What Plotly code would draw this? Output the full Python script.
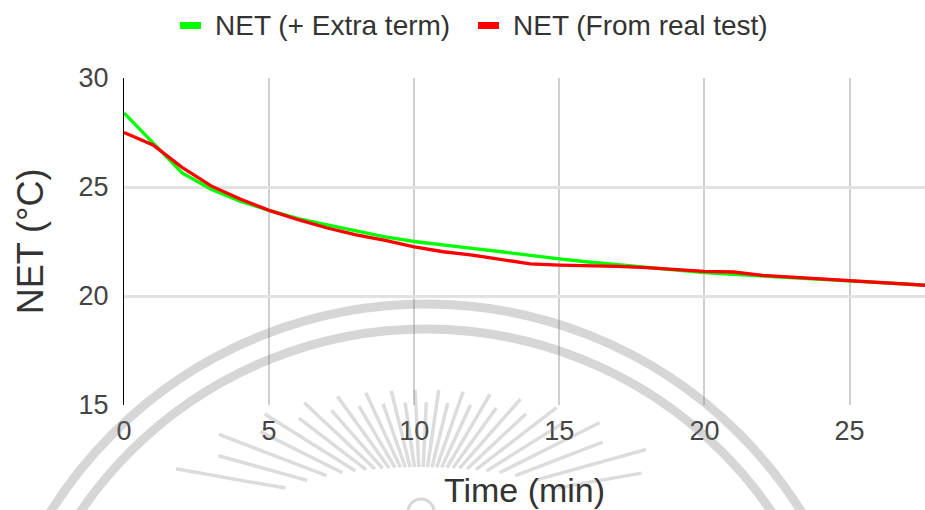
import math
import plotly.graph_objects as go

# Time axis (minutes) and the two NET temperature series (°C)
time_min = list(range(0, 29))
net_extra_term = [28.40, 27.02, 25.65, 24.90, 24.35, 23.93, 23.55, 23.26, 22.97, 22.71,
                  22.50, 22.33, 22.18, 22.03, 21.86, 21.70, 21.56, 21.44, 21.32, 21.20,
                  21.07, 20.99, 20.91, 20.83, 20.76, 20.69, 20.61, 20.54, 20.47]
net_real_test = [27.50, 26.93, 25.90, 25.05, 24.45, 23.93, 23.50, 23.12, 22.80, 22.55,
                 22.25, 22.03, 21.88, 21.68, 21.47, 21.42, 21.40, 21.36, 21.30, 21.22,
                 21.13, 21.10, 20.95, 20.87, 20.79, 20.70, 20.62, 20.53, 20.46]

x_ticks = [0, 5, 10, 15, 20, 25]
y_ticks = [15, 20, 25, 30]
series_names = ["NET (+ Extra term)", "NET (From real test)"]
series_colors = ["#00ff00", "#ff0000"]

FONT = "Arial, Liberation Sans, sans-serif"

# Plot-area geometry in pixels
W, H = 925, 510
ML, MR, MT, MB = 124, 0, 78, 105
PW, PH = W - ML - MR, H - MT - MB


def px(xp):
    return (xp - ML) / PW


def py(yp):
    return (MT + PH - yp) / PH


fig = go.Figure()
for name, ys, col in zip(series_names, [net_extra_term, net_real_test], series_colors):
    fig.add_trace(go.Scatter(x=time_min, y=ys, mode="lines", name=name,
                             line=dict(color=col, width=3.3)))

shapes = []
annotations = []

# Legend row above the plot: short colour bar followed by the series name
legend_left = [180, 478]
for name, col, x0 in zip(series_names, series_colors, legend_left):
    shapes.append(dict(type="rect", xref="paper", yref="paper",
                       x0=px(x0), x1=px(x0 + 21), y0=py(29), y1=py(22),
                       fillcolor=col, line=dict(width=0)))
    annotations.append(dict(text=name, xref="paper", yref="paper",
                            x=px(x0 + 33), y=py(25), xanchor="left", yanchor="middle",
                            showarrow=False, font=dict(size=28, color="#333333", family=FONT)))

# Faint seal watermark: two rings, a sunburst and a small disc
wm = "rgba(120,120,120,0.30)"
cx, cy = 426, 747
for r in (443, 418):
    shapes.append(dict(type="circle", xref="paper", yref="paper",
                       x0=px(cx - r), x1=px(cx + r), y0=py(cy + r), y1=py(cy - r),
                       line=dict(color=wm, width=9), layer="above"))
sx, sy = 421, 512
n_rays = 30
for i in range(n_rays):
    ang = math.radians(10 + 160 * i / (n_rays - 1))
    c, s = math.cos(ang), math.sin(ang)
    a_out, b_out = 262, 122
    a_in, b_in = 160, 45
    r_out = a_out * b_out / math.hypot(b_out * c, a_out * s)
    r_in = a_in * b_in / math.hypot(b_in * c, a_in * s)
    if i % 2:
        r_out *= 0.9
    shapes.append(dict(type="line", xref="paper", yref="paper",
                       x0=px(sx - r_in * c), y0=py(sy - r_in * s),
                       x1=px(sx - r_out * c), y1=py(sy - r_out * s),
                       line=dict(color="rgba(120,120,120,0.26)", width=3.5), layer="above"))
shapes.append(dict(type="circle", xref="paper", yref="paper",
                   x0=px(sx - 13), x1=px(sx + 13), y0=py(sy + 13), y1=py(sy - 13),
                   line=dict(color=wm, width=3), layer="above"))

fig.update_layout(
    width=W, height=H,
    margin=dict(l=ML, r=MR, t=MT, b=MB, autoexpand=False),
    paper_bgcolor="white", plot_bgcolor="white",
    font=dict(family=FONT, color="#444444"),
    showlegend=False,
    shapes=shapes,
    annotations=annotations,
)

fig.update_xaxes(
    range=[0, 27.6], tickvals=x_ticks, ticktext=[str(v) for v in x_ticks],
    showgrid=True, gridcolor="#cfcfcf", gridwidth=1.5, zeroline=False, showline=False,
    tickfont=dict(size=27, color="#444444", family=FONT), ticklabelstandoff=7,
    title=dict(text="Time (min)", font=dict(size=34, color="#333333", family=FONT), standoff=33),
)
fig.update_yaxes(
    range=[15, 30], tickvals=y_ticks, ticktext=[str(v) for v in y_ticks],
    showgrid=True, gridcolor="#e2e2e2", gridwidth=2.5, zeroline=False,
    showline=True, linecolor="#000000", linewidth=1,
    tickfont=dict(size=27, color="#444444", family=FONT), ticklabelstandoff=9,
    title=dict(text="NET (°C)", font=dict(size=36, color="#333333", family=FONT), standoff=23),
)

fig.write_html("out.html")
